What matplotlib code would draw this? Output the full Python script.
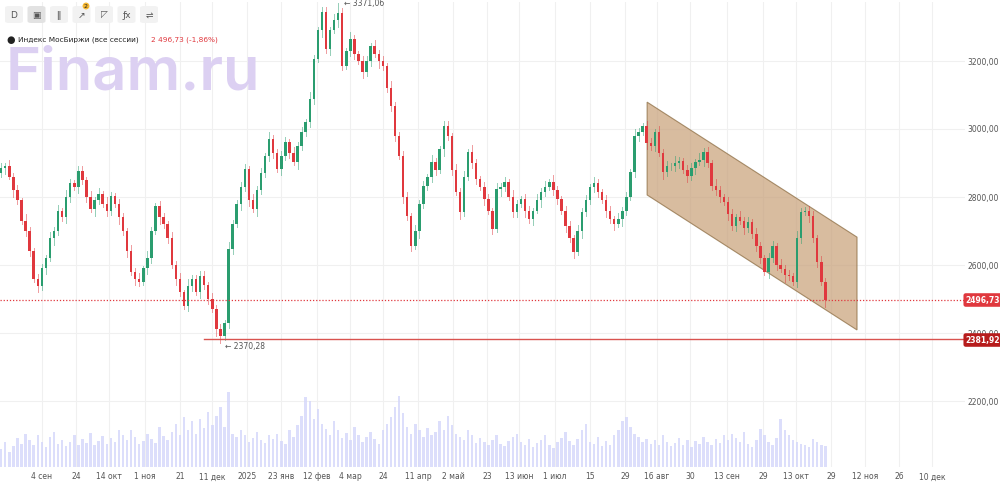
import matplotlib
matplotlib.use("Agg")
import matplotlib.pyplot as plt
from matplotlib.patches import Polygon, FancyBboxPatch
import numpy as np

closes = [2885, 2891, 2860, 2820, 2790, 2730, 2700, 2640, 2560, 2538,
          2590, 2620, 2680, 2700, 2760, 2740, 2800, 2840, 2830, 2876,
          2850, 2800, 2765, 2790, 2810, 2780, 2760, 2803, 2780, 2740, 2700, 2640, 2579,
          2560, 2550, 2590, 2620, 2700, 2773,
          2740, 2720, 2680, 2600, 2560, 2520, 2480,
          2538, 2560, 2520, 2568, 2540, 2500, 2470, 2412,
          2390, 2430, 2647, 2720, 2780, 2830, 2882,
          2790, 2765, 2820, 2870, 2920, 2970, 2930, 2882, 2920, 2962, 2930, 2903, 2950, 2990, 3020, 3088,
          3206, 3290, 3344, 3235, 3290, 3320, 3340, 3185,
          3230, 3265, 3220, 3200, 3168, 3200, 3244, 3220, 3200, 3185,
          3120, 3068, 2980, 2920, 2800, 2744, 2656,
          2700, 2780, 2832, 2860, 2903, 2880, 2940, 3009,
          2980, 2880, 2815, 2756, 2860, 2932, 2900, 2853, 2830, 2794, 2760, 2706, 2824,
          2830, 2844, 2800, 2756, 2780, 2794, 2760, 2735, 2760, 2790, 2815,
          2830, 2844, 2820, 2794, 2760, 2715, 2680, 2638,
          2700, 2756, 2790, 2829, 2840, 2815, 2790, 2760, 2735, 2720, 2735, 2760, 2800, 2874, 2979,
          2990, 3009, 2960, 2950, 2991, 2930, 2874, 2890, 2891, 2900, 2906, 2880, 2862, 2885,
          2903, 2910, 2932, 2900, 2832, 2820, 2800, 2785, 2750, 2715, 2740, 2730, 2710, 2726,
          2690, 2656, 2620, 2579, 2620, 2656, 2600, 2588, 2570, 2568, 2550, 2680, 2756, 2760, 2744, 2680, 2609, 2550, 2496.73]
first_open = 2870
wick = [14, 9, 18, 11, 16, 8, 20, 12, 10, 15]
special_high = {83: 3371.06}
special_low = {54: 2370.28}
volumes = [22, 30, 18, 25, 35, 28, 40, 32, 26, 38, 30, 24, 36, 42, 28, 33, 25, 30, 38, 27,
           34, 29, 41, 26, 31, 37, 28, 35, 30, 44, 39, 33, 45, 36, 28, 31, 40, 34, 29, 48,
           37, 33, 42, 52, 38, 60, 44, 55, 40, 58, 47, 66, 50, 62, 72, 48, 90, 40, 36, 44,
           38, 30, 35, 42, 33, 29, 38, 34, 40, 31, 28, 45, 36, 50, 62, 84, 80, 58, 70, 52,
           46, 38, 55, 44, 35, 41, 33, 48, 39, 30, 36, 42, 34, 28, 45, 52, 60, 72, 85, 65,
           48, 40, 52, 44, 36, 47, 38, 42, 56, 45, 62, 50, 40, 36, 32, 44, 38, 29, 35, 30,
           26, 33, 38, 28, 25, 31, 36, 40, 30, 27, 34, 24, 29, 33, 38, 27, 23, 30, 35, 42,
           31, 26, 34, 45, 52, 30, 28, 36, 25, 31, 27, 38, 44, 56, 60, 48, 40, 36, 30, 34,
           28, 33, 26, 38, 30, 25, 29, 35, 27, 32, 24, 31, 28, 36, 30, 26, 34, 29, 38, 32,
           40, 35, 30, 42, 28, 24, 33, 46, 38, 30, 26, 35, 58, 44, 38, 32, 30, 28, 26, 24,
           34, 30, 27, 25]
volumes = volumes[:len(closes)]
price_ticks = [2200, 2400, 2600, 2800, 3000, 3200]
tick_idx = [10.1, 18.5, 26.6, 35.5, 44.1, 52, 60.6, 69, 77.8, 86, 94.1, 102.7, 111.3, 119.7, 127.6, 136.4,
            145.1, 153.7, 161.6, 169.7, 178.8, 187.7, 195.8, 204.4, 212.8, 221.2, 229.3]
tick_labels = ["4 сен", "24", "14 окт", "1 ноя", "21", "11 дек", "2025", "23 янв", "12 фев", "4 мар", "24",
               "11 апр", "2 май", "23", "13 июн", "1 июл", "15", "29", "16 авг", "30", "13 сен", "29",
               "13 окт", "29", "12 ноя", "26", "10 дек"]
last_price = 2496.73
level = 2381.92
channel_x = [159.1, 210.8]
channel_top = [3079, 2682]
channel_bot = [2806, 2409]

UP, DN = "#2a9d6f", "#e0383e"
fig = plt.figure(figsize=(10, 4.85), dpi=100)
ax = fig.add_axes([0, 17/485, 0.965, 465/485])
ax.set_xlim(-0.3, 237.4)
ax.set_ylim(2006, 3373.5)
for s in ax.spines.values():
    s.set_visible(False)
ax.set_yticks(price_ticks)
ax.set_xticks(tick_idx)
ax.tick_params(length=0, labelleft=False, labelbottom=False)
ax.grid(True, color="#f0f0f0", lw=0.8)
ax.set_axisbelow(True)

axv = ax.twinx()
axv.set_ylim(0, 560)
axv.set_yticks([])
for s in axv.spines.values():
    s.set_visible(False)
x = np.arange(len(closes))
axv.bar(x, volumes, width=0.6, color="#d4d6fb", alpha=0.8, zorder=1)

opens = [first_open] + closes[:-1]
for i, (o, c) in enumerate(zip(opens, closes)):
    col = UP if c >= o else DN
    w = wick[i % len(wick)]
    hi = special_high.get(i, max(o, c) + w)
    lo = special_low.get(i, min(o, c) - wick[(i + 3) % len(wick)])
    ax.plot([i, i], [lo, hi], color=col, lw=0.7, alpha=0.5, zorder=3)
    ax.add_patch(plt.Rectangle((i - 0.3, min(o, c)), 0.6, max(abs(c - o), 1.5), color=col, zorder=4, lw=0))

ax.add_patch(Polygon([[channel_x[0], channel_top[0]], [channel_x[1], channel_top[1]],
                      [channel_x[1], channel_bot[1]], [channel_x[0], channel_bot[0]]],
                     closed=True, facecolor="#c9a27a", alpha=0.72, edgecolor="#8a6a3f", lw=0.8, zorder=2))

ax.axhline(last_price, color=DN, lw=0.9, ls=(0, (1, 1.5)), zorder=5)
ax.plot([50, 237.4], [level, level], color="#d9534f", lw=1.0, zorder=5)
ax.annotate("← 3371,06", (84.5, 3371.06), fontsize=5.5, color="#555", va="center", annotation_clip=False)
ax.annotate("← 2370,28", (55, 2362), fontsize=5.5, color="#555", va="center")

for p in price_ticks:
    fig.text(0.983, 1 - (334 + (2400 - p) * 0.34) / 485, f"{p:.2f}".replace(".", ","),
             fontsize=5.5, color="#555", ha="center", va="center")
for val, col, yy in [(last_price, "#e0383e", 301), (level, "#b71c1c", 341)]:
    fig.text(0.983, 1 - yy / 485, f"{val:.2f}".replace(".", ","), fontsize=5.5, color="white", weight="bold",
             ha="center", va="center", bbox=dict(boxstyle="round,pad=0.3", fc=col, ec="none"))
for t, lab in zip(tick_idx, tick_labels):
    fig.text((4.06 * t + 1) / 1000, 1 - 477 / 485, lab, fontsize=5.5, color="#555", ha="center", va="center")

fig.text(0.006, 1 - 74 / 485, "Finam.ru", fontsize=43, color="#dcd0f2", weight="semibold", va="center", family="Inter")
fig.text(0.006, 1 - 40 / 485, "●", fontsize=7, color="#222", va="center")
fig.text(0.018, 1 - 40 / 485, "Индекс МосБиржи (все сессии)", fontsize=5.3, color="#222", va="center")
fig.text(0.151, 1 - 40 / 485, "2 496,73 (-1,86%)", fontsize=5.3, color="#e0383e", va="center")
icons = ["D", "▣", "ǀǀ", "↗", "◸", "ƒx", "⇌"]
for k, ic in enumerate(icons):
    cx = 14 + k * 22.5
    fig.patches.append(FancyBboxPatch(((cx - 9) / 1000, 1 - 24 / 485), 18 / 1000, 17 / 485,
                                      boxstyle="round,pad=0,rounding_size=0.004", transform=fig.transFigure,
                                      fc="#e2e2e2" if k == 1 else "#f2f2f2", ec="none"))
    fig.text(cx / 1000, 1 - 15.5 / 485, ic, fontsize=6.5, color="#555", ha="center", va="center", family=["DejaVu Sans"])
fig.text(86 / 1000, 1 - 7 / 485, "2", fontsize=4.5, color="#222", ha="center", va="center",
         bbox=dict(boxstyle="circle,pad=0.15", fc="#f5b731", ec="none"))
fig.savefig("out.png", dpi=100, facecolor="white")
